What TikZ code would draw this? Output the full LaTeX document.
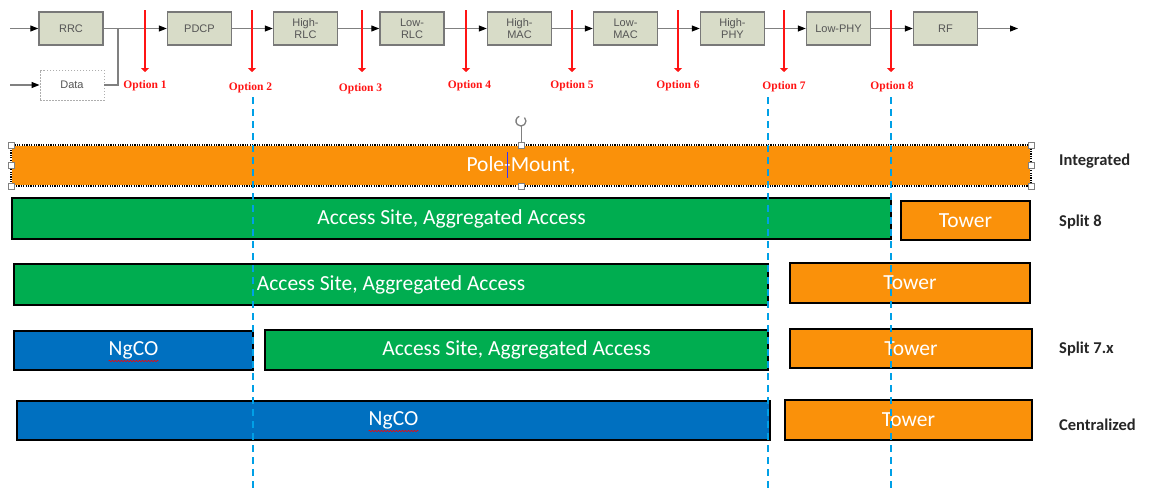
\documentclass[tikz,border=0pt]{standalone}
\usepackage{fontspec}
\setmainfont{Carlito}
\newfontfamily\boxfont{Liberation Sans}
\newfontfamily\optfont{Liberation Serif}
\usetikzlibrary{arrows.meta,decorations.pathmorphing}
\definecolor{boxfill}{RGB}{216,220,200}
\definecolor{boxline}{RGB}{120,120,120}
\definecolor{boxtext}{RGB}{85,85,85}
\definecolor{optred}{RGB}{255,20,20}
\definecolor{splitblue}{RGB}{0,160,230}
\definecolor{barorange}{RGB}{250,145,10}
\definecolor{bargreen}{RGB}{0,173,80}
\definecolor{barblue}{RGB}{0,112,192}
\begin{document}
\begin{tikzpicture}[x=1pt,y=-1pt,
  fnbox/.style={draw=boxline, line width=1.4pt, fill=boxfill, minimum width=64pt, minimum height=33pt, inner sep=0pt, font=\boxfont\fontsize{11}{12}\selectfont, text=boxtext, align=center},
  databox/.style={draw=boxline!60, dash pattern=on 1.5pt off 1.5pt, line width=0.9pt, fill=white, minimum width=64pt, minimum height=30pt, inner sep=0pt, font=\boxfont\fontsize{11}{12}\selectfont, text=boxtext},
  flowline/.style={draw=gray, line width=1.2pt},
  flow/.style={flowline, -{Triangle[width=6pt,length=8pt,color=black]}},
  optarrow/.style={draw=optred, line width=2pt, -{Triangle[width=8pt,length=4pt]}},
  optlabel/.style={text=optred, font=\optfont\bfseries\fontsize{11.5}{13}\selectfont, inner sep=0pt},
  bar/.style={draw=black, line width=1.8pt, inner sep=0pt, text=white, font=\fontsize{21.5}{25}\selectfont},
  rowlabel/.style={anchor=west, inner sep=0pt, font=\bfseries\fontsize{16.5}{20}\selectfont, text=black!85},
  splitline/.style={draw=splitblue, line width=2pt, dash pattern=on 7pt off 5pt},
  handle/.style={draw=gray, fill=white, line width=0.6pt, minimum size=6pt, inner sep=0pt},
  spell/.style={draw=red, line width=0.6pt, decorate, decoration={snake, amplitude=0.7pt, segment length=3pt}},
]
\useasboundingbox (0,0) rectangle (1149,490);

% ---------- top protocol chain ----------
\node[fnbox] (rrc)  at (71,28.5)    {RRC};
\node[fnbox] (pdcp) at (199.5,28.5) {PDCP};
\node[fnbox] (hrlc) at (305.5,28.5) {High-\\RLC};
\node[fnbox] (lrlc) at (412,28.5)   {Low-\\RLC};
\node[fnbox] (hmac) at (519.5,28.5) {High-\\MAC};
\node[fnbox] (lmac) at (625.5,28.5) {Low-\\MAC};
\node[fnbox] (hphy) at (732.5,28.5) {High-\\PHY};
\node[fnbox] (lphy) at (838.5,28.5) {Low-PHY};
\node[fnbox] (rf)   at (945.5,28.5) {RF};
\node[databox] (data) at (72,85) {Data};

\coordinate (inrrc) at (10,28.5);
\coordinate (indata) at (10,85);
\coordinate (join) at (118,28.5);
\coordinate (out) at (1018,28.5);

\draw[flow] (inrrc) -- (rrc.west);
\draw[flow] (indata) -- (data.west);
\draw[flowline] (data.east) -| (join);
\draw[flow] (rrc.east) -- (pdcp.west);
\draw[flow] (pdcp.east) -- (hrlc.west);
\draw[flow] (hrlc.east) -- (lrlc.west);
\draw[flow] (lrlc.east) -- (hmac.west);
\draw[flow] (hmac.east) -- (lmac.west);
\draw[flow] (lmac.east) -- (hphy.west);
\draw[flow] (hphy.east) -- (lphy.west);
\draw[flow] (lphy.east) -- (rf.west);
\draw[flow] (rf.east) -- (out);

% ---------- split options ----------
\foreach \i/\x/\lx/\ly in {1/145/145/86, 2/252/250.5/88, 3/362/360.5/89, 4/466/469.5/86, 5/572/572/86, 6/678/678/86, 7/784/784/87, 8/891/892/87} {
  \coordinate (ot\i) at (\x,10);
  \coordinate (ob\i) at (\x,72);
  \draw[optarrow] (ot\i) -- (ob\i);
  \node[optlabel] (ol\i) at (\lx,\ly) {Option \i};
}

% ---------- bars ----------
\node[bar, fill=barorange, minimum width=1018pt, minimum height=39pt, draw=none] (integ) at (521,165.5) {Pole-Mount,};
\draw[black, line width=1.4pt, dash pattern=on 1.2pt off 1.2pt] (integ.north west) rectangle (integ.south east);

\node[bar, fill=bargreen,  minimum width=879pt, minimum height=41pt] (g8)  at (451.5,218.5) {Access Site, Aggregated Access};
\node[bar, fill=barorange, minimum width=129pt, minimum height=39pt] (t8)  at (965.5,220.5) {Tower};

\node[bar, fill=bargreen,  minimum width=754pt, minimum height=41pt] (g7)  at (391,284.5) {Access Site, Aggregated Access};
\node[bar, fill=barorange, minimum width=240pt, minimum height=40pt] (t7)  at (910,283) {Tower};

\node[bar, fill=barblue,   minimum width=239pt, minimum height=39pt] (n7x) at (133.5,350.5) {NgCO};
\node[bar, fill=bargreen,  minimum width=503pt, minimum height=40pt] (g7x) at (516.5,350) {Access Site, Aggregated Access};
\node[bar, fill=barorange, minimum width=242pt, minimum height=39pt] (t7x) at (911,348.5) {Tower};

\node[bar, fill=barblue,   minimum width=753pt, minimum height=39pt] (nc)  at (393.5,420.5) {NgCO};
\node[bar, fill=barorange, minimum width=247pt, minimum height=40pt] (tc)  at (908.5,420) {Tower};

% spell-check underlines
\draw[spell] ([xshift=-25pt,yshift=-10.5pt]n7x.center) -- ([xshift=25pt,yshift=-10.5pt]n7x.center);
\draw[spell] ([xshift=-25pt,yshift=-10.5pt]nc.center) -- ([xshift=25pt,yshift=-10.5pt]nc.center);

% ---------- split lines ----------
\foreach \x in {253,768,891} {
  \coordinate (st\x) at (\x,97);
  \coordinate (sb\x) at (\x,490);
  \draw[splitline] (st\x) -- (sb\x);
}

% ---------- selection handles on the first bar ----------
\coordinate (rot) at (521,121);
\draw[gray, line width=0.8pt] (integ.north) -- ([yshift=19pt]integ.north);
\draw[gray, line width=1.3pt] (524.5,117.5) arc[start angle=-45, end angle=250, radius=5];
\foreach \a in {north west, north, north east, west, east, south west, south, south east} {
  \node[handle] at (integ.\a) {};
}
\draw[blue!80, line width=0.8pt] (507,152) -- (507,178);

% ---------- row labels ----------
\node[rowlabel] (lint) at (1059,161) {Integrated};
\node[rowlabel] (ls8)  at (1059,222) {Split 8};
\node[rowlabel] (ls7)  at (1059,349) {Split 7.x};
\node[rowlabel] (lcen) at (1059,425) {Centralized};
\end{tikzpicture}
\end{document}
